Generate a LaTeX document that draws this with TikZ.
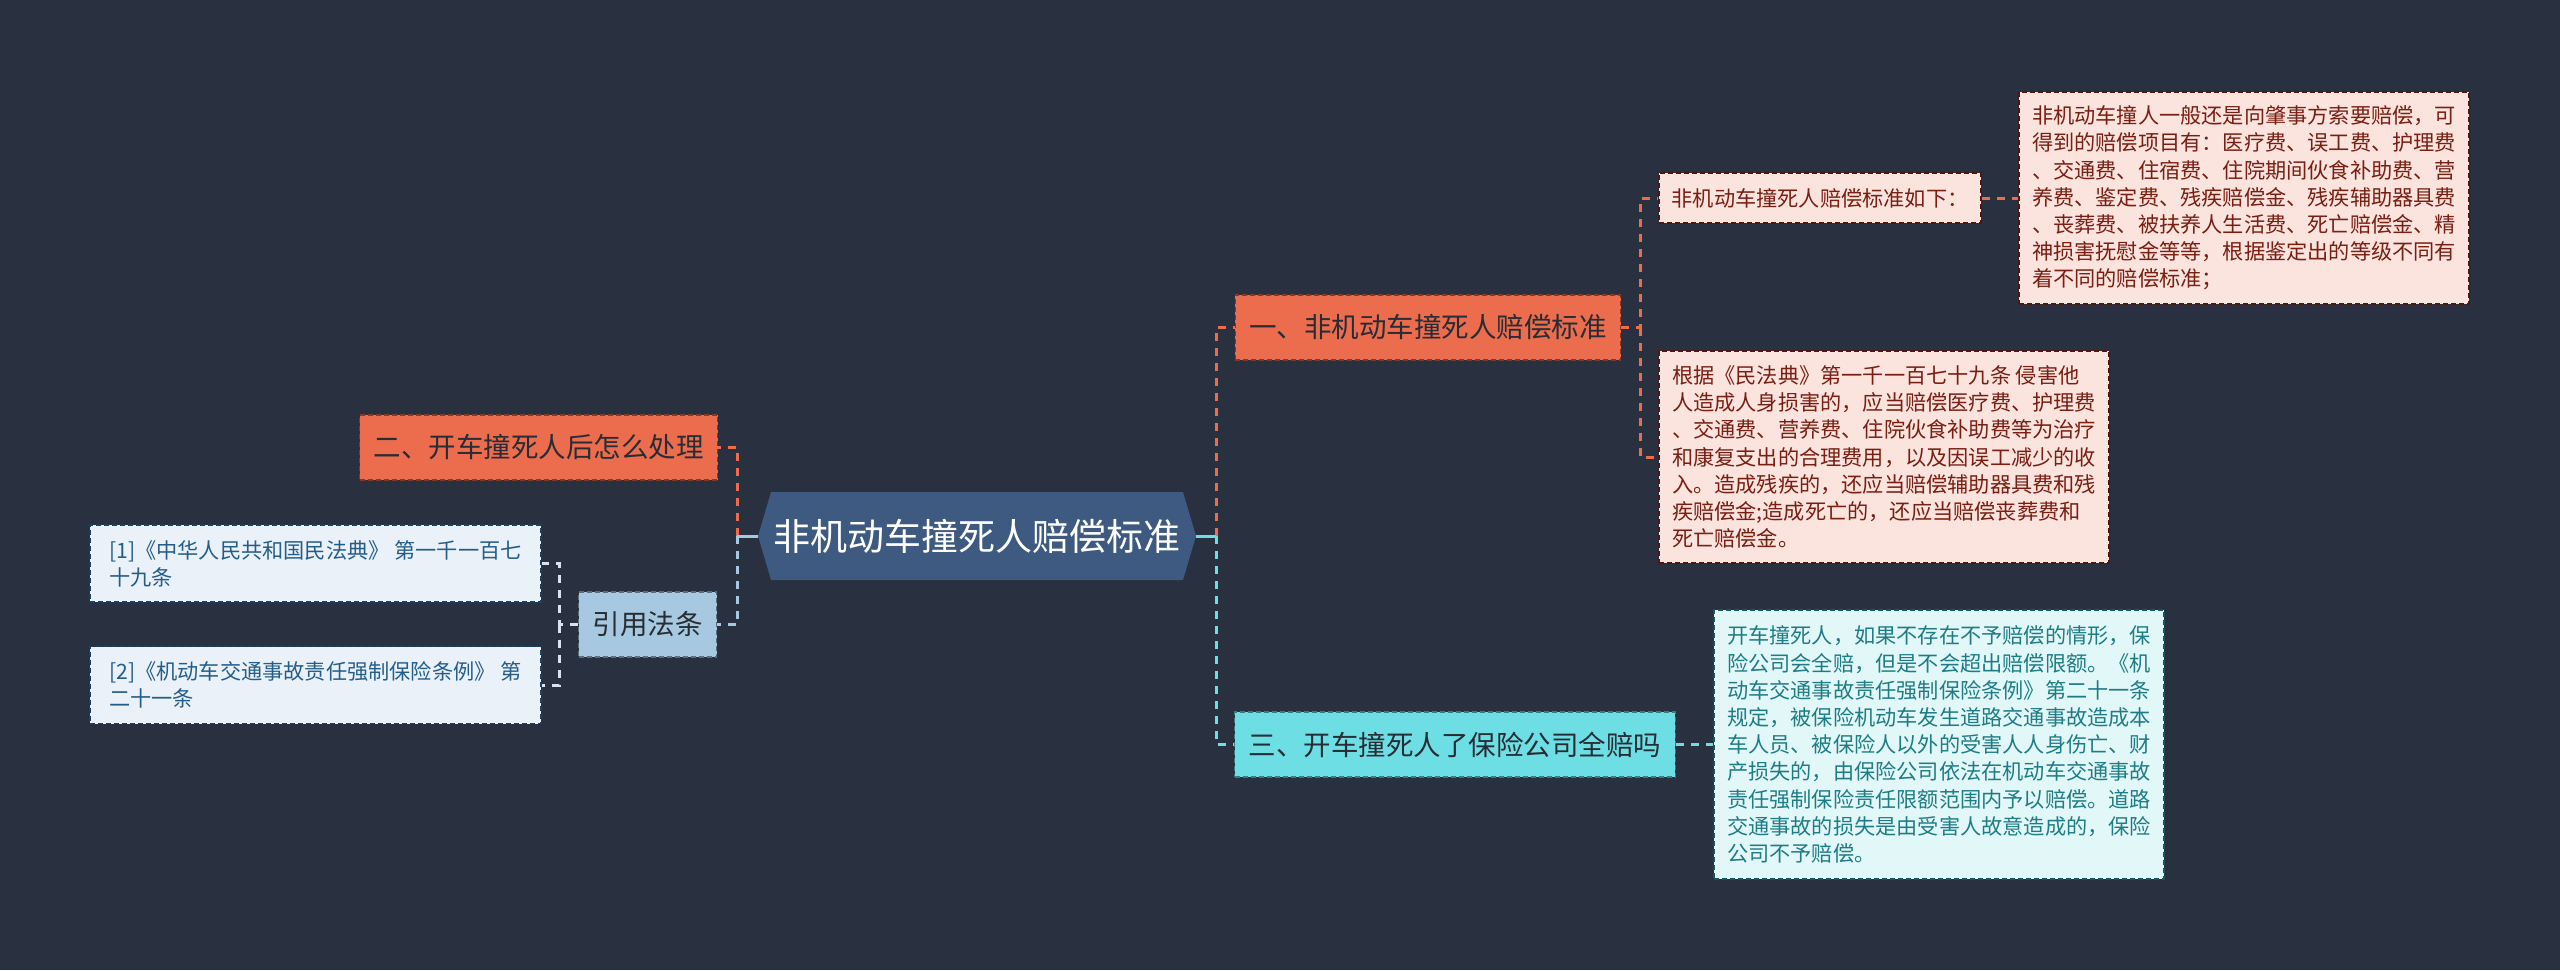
\documentclass[tikz,border=0pt]{standalone}
\usepackage{fontspec}
\setmainfont{Noto Sans CJK SC}
\usepackage{tikz}
\usetikzlibrary{shapes.symbols}
\usetikzlibrary{calc}
\definecolor{mybg}{RGB}{41,48,63}
\definecolor{myhex}{RGB}{62,90,128}
\definecolor{mycoral}{RGB}{236,108,78}
\definecolor{mycyan}{RGB}{108,222,228}
\definecolor{mysky}{RGB}{166,200,224}
\definecolor{mypink}{RGB}{252,228,222}
\definecolor{myred}{RGB}{120,30,18}
\definecolor{myice}{RGB}{226,247,248}
\definecolor{myteal}{RGB}{30,125,132}
\definecolor{mypale}{RGB}{234,241,248}
\definecolor{mynavy}{RGB}{36,93,138}
\definecolor{mywire}{RGB}{214,228,240}
\definecolor{myink}{RGB}{40,44,52}

\begin{document}
\begin{tikzpicture}[x=1pt,y=-1pt,
	topic/.style={fill=#1, draw=#1!55!black, line width=1.2pt, dash pattern=on 5pt off 3pt,
		text=myink, inner xsep=14pt, minimum height=65pt, font=\fontsize{27.5pt}{33pt}\selectfont},
	leaf/.style n args={2}{fill=#1, draw=#2!70!black, text=#2, line width=1.2pt, dash pattern=on 5pt off 3pt,
		align=left, inner sep=0pt, font=\fontsize{21.2pt}{27.2pt}\selectfont},
	link/.style={draw=#1, line width=3pt, dash pattern=on 8pt off 7pt},
	stub/.style={draw=#1, line width=3pt}]

	\useasboundingbox (0,0) rectangle (2560,970);
	\fill[mybg] (0,0) rectangle (2560,970);

	% main topic and first level
	\node (root) [signal, signal to=east and west, signal pointer angle=147, fill=myhex, text=white,
		minimum width=438pt, minimum height=88pt, inner sep=0pt,
		font=\fontsize{37pt}{42pt}\selectfont] at (977,536) {非机动车撞死人赔偿标准};
	\node (std) [topic=mycoral] at (1428,327.5) {一、非机动车撞死人赔偿标准};
	\node (after) [topic=mycoral] at (538.5,447.5) {二、开车撞死人后怎么处理};
	\node (cite) [topic=mysky] at (647.5,624.5) {引用法条};
	\node (insure) [topic=mycyan] at (1455,744.5) {三、开车撞死人了保险公司全赔吗};

	% leaves
	\begin{scope}[every node/.append style={leaf={mypink}{myred}}]
		\node (stdhead) [minimum width=322pt, minimum height=50pt] at (1820,198) {非机动车撞死人赔偿标准如下：};
		\node (stditems) [minimum width=450pt, minimum height=212pt] at (2244,198) {非机动车撞人一般还是向肇事方索要赔偿，可\\得到的赔偿项目有：医疗费、误工费、护理费\\、交通费、住宿费、住院期间伙食补助费、营\\养费、鉴定费、残疾赔偿金、残疾辅助器具费\\、丧葬费、被扶养人生活费、死亡赔偿金、精\\神损害抚慰金等等，根据鉴定出的等级不同有\\着不同的赔偿标准；};
		\node (stdlaw) [minimum width=450pt, minimum height=212pt] at (1884,457) {根据《民法典》第一千一百七十九条 侵害他\\人造成人身损害的，应当赔偿医疗费、护理费\\、交通费、营养费、住院伙食补助费等为治疗\\和康复支出的合理费用，以及因误工减少的收\\入。造成残疾的，还应当赔偿辅助器具费和残\\疾赔偿金;造成死亡的，还应当赔偿丧葬费和\\死亡赔偿金。};
	\end{scope}
	\node (insurelaw) [leaf={myice}{myteal}, minimum width=450pt, minimum height=269pt] at (1939,744.5) {开车撞死人，如果不存在不予赔偿的情形，保\\险公司会全赔，但是不会超出赔偿限额。《机\\动车交通事故责任强制保险条例》第二十一条\\规定，被保险机动车发生道路交通事故造成本\\车人员、被保险人以外的受害人人身伤亡、财\\产损失的，由保险公司依法在机动车交通事故\\责任强制保险责任限额范围内予以赔偿。道路\\交通事故的损失是由受害人故意造成的，保险\\公司不予赔偿。};
	\begin{scope}[every node/.append style={leaf={mypale}{mynavy}, minimum width=451pt, minimum height=77pt}]
		\node (civil) at (315.5,563.5) {[1]《中华人民共和国民法典》 第一千一百七\\十九条};
		\node (traffic) at (315.5,685) {[2]《机动车交通事故责任强制保险条例》 第\\二十一条};
	\end{scope}

	% joints
	\coordinate (rootR) at (1216,536);
	\coordinate (rootL) at (737,536);
	\coordinate (stdR) at ([xshift=19pt]std.east);
	\coordinate (citeL) at ([xshift=-18pt]cite.west);

	% connectors
	\draw [link=mycoral] (rootR) |- (std.west);
	\draw [link=mycyan] (rootR) |- (insure.west);
	\draw [stub=mycyan] (root.east) -- (rootR);
	\draw [link=mycoral] (rootL) |- (after.east);
	\draw [link=mysky] (rootL) |- (cite.east);
	\draw [stub=mysky] (root.west) -- (rootL);
	\draw [link=mycoral] (std.east) -- (stdR) |- (stdhead.west);
	\draw [link=mycoral] (stdR) |- (stdlaw.west);
	\draw [link=mycoral] (stdhead.east) -- (stditems.west);
	\draw [link=mycyan] (insure.east) -- (insurelaw.west);
	\draw [link=mywire] (cite.west) -- (citeL) |- (civil.east);
	\draw [link=mywire] (citeL) |- (traffic.east);
\end{tikzpicture}
\end{document}
